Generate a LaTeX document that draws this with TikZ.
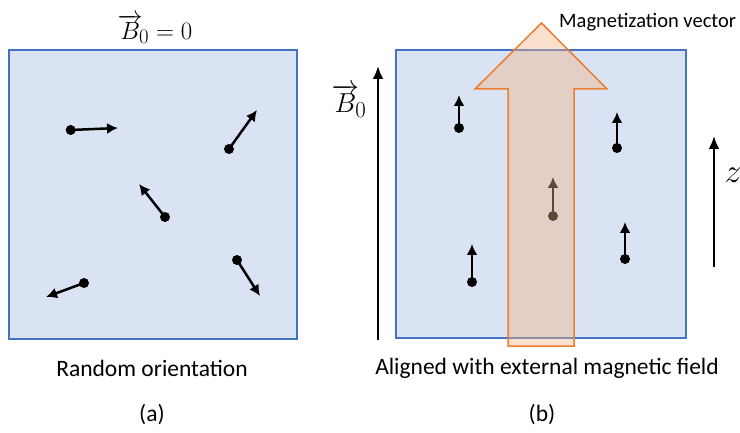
\documentclass[tikz,border=0pt]{standalone}
\usepackage{fontspec}
\setmainfont{Carlito}
\usetikzlibrary{arrows.meta}
\definecolor{boxfill}{HTML}{DAE3F3}
\definecolor{boxline}{HTML}{4472C4}
\definecolor{magline}{HTML}{ED7D31}
\definecolor{magfill}{HTML}{F4B183}
\begin{document}
\begin{tikzpicture}[x=1pt,y=-1pt,
  panel/.style={draw=boxline,fill=boxfill,line width=1.5pt},
  dot/.style={circle,fill=black,inner sep=0pt,minimum size=10pt},
  dip/.style={line width=2.5pt,-{Latex[length=11pt,width=11pt]}},
  field/.style={line width=2.4pt,-{Latex[length=13pt,width=11pt]}},
  lbl/.style={font=\fontsize{23.5}{27}\selectfont,inner sep=0pt},
  mag/.style={draw=magline,fill=magfill,fill opacity=0.4,line width=1.5pt,line join=miter}
]
\useasboundingbox (0,0) rectangle (740,433);
% panels
\draw[panel] (9,50) rectangle (297,339);
\draw[panel] (396,50) rectangle (686,338);
% left dipoles
\node[dot] (a1) at (70.7,130) {};   \coordinate (ta1) at (118,128);
\node[dot] (a2) at (229,149) {};    \coordinate (ta2) at (257,110);
\node[dot] (a3) at (165,217) {};    \coordinate (ta3) at (139,184);
\node[dot] (a4) at (84,283) {};     \coordinate (ta4) at (46,297);
\node[dot] (a5) at (237,260) {};    \coordinate (ta5) at (260,296);
\foreach \i in {1,...,5} \draw[dip] (a\i.center) -- (ta\i);
% right dipoles
\node[dot] (b1) at (459,128) {};  \coordinate (tb1) at (459,95);
\node[dot] (b2) at (617,148) {};  \coordinate (tb2) at (617,112);
\node[dot] (b3) at (553,216) {};  \coordinate (tb3) at (553,177);
\node[dot] (b4) at (472,282) {};  \coordinate (tb4) at (472,244);
\node[dot] (b5) at (625,259) {};  \coordinate (tb5) at (625,222);
\foreach \i in {1,...,5} \draw[dip] (b\i.center) -- (tb\i);
% magnetization vector
\coordinate (mtip) at (541.5,23);
\draw[mag] (mtip) -- (607,89) -- (574,89) -- (574,346) -- (508,346) -- (508,89) -- (475,89) -- cycle;
\node[font=\fontsize{20.5}{24}\selectfont,anchor=west,inner sep=0pt] (mlabel) at (559,22) {Magnetization vector};
% field arrows
\coordinate (B0s) at (378,340); \coordinate (B0e) at (378,66);
\draw[field] (B0s) -- (B0e);
\node[font=\fontsize{24.88}{30}\selectfont,inner sep=0pt] (B0lbl) at (349,101) {\scalebox{1.1}{$\overrightarrow{B}_{\!0}$}};
\coordinate (zs) at (714,267); \coordinate (ze) at (714,136);
\draw[field] (zs) -- (ze);
\node[font=\fontsize{24.88}{30}\selectfont,inner sep=0pt] (zlbl) at (733,175) {\scalebox{1.35}{$z$}};
% titles
\node[font=\fontsize{24.88}{30}\selectfont,inner sep=0pt] (ttl) at (155,29) {$\overrightarrow{B}_{\!0}=0$};
\node[lbl] (capa) at (152,368) {Random orientation};
\node[lbl] (capb) at (547,368) {Aligned with external magnetic field};
\node[lbl] (la) at (152,415) {(a)};
\node[lbl] (lb) at (542,415) {(b)};
\end{tikzpicture}
\end{document}
